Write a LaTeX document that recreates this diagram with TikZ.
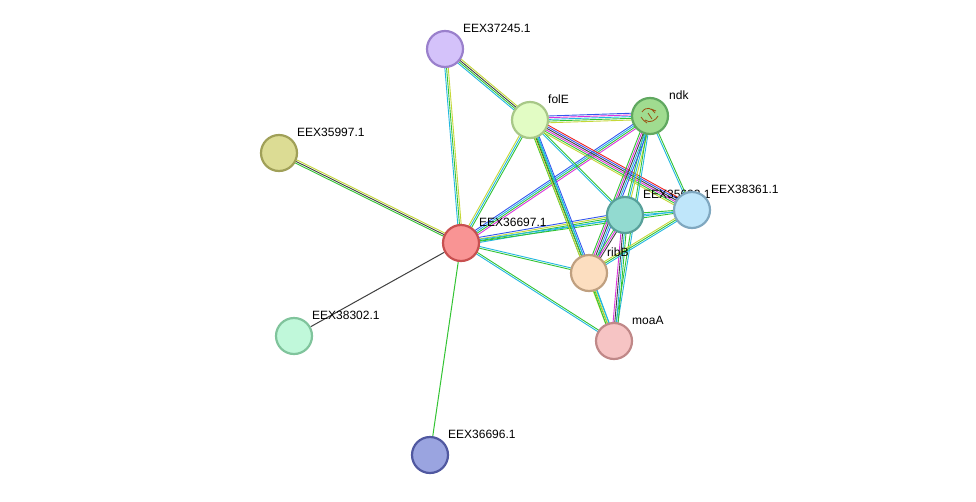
\documentclass[tikz,border=0pt]{standalone}
\usepackage{fontspec}
\setmainfont{Liberation Sans}
\usetikzlibrary{calc,backgrounds}
\definecolor{eg}{HTML}{33C433}
\definecolor{ec}{HTML}{22B8E0}
\definecolor{ey}{HTML}{C6D838}
\definecolor{ed}{HTML}{404040}
\definecolor{em}{HTML}{DD33DD}
\definecolor{eb}{HTML}{3355EE}
\definecolor{er}{HTML}{EE2222}
\definecolor{fa}{HTML}{D4C2FA}\definecolor{da}{HTML}{9A80CC}
\definecolor{ff}{HTML}{E2FCC4}\definecolor{df}{HTML}{A8C888}
\definecolor{fn}{HTML}{A0DC90}\definecolor{dn}{HTML}{60A860}
\definecolor{fc}{HTML}{DCDC94}\definecolor{dc}{HTML}{A0A058}
\definecolor{fs}{HTML}{BFE6FA}\definecolor{ds}{HTML}{80A8C0}
\definecolor{ft}{HTML}{92DAD0}\definecolor{dt}{HTML}{58A09A}
\definecolor{fr}{HTML}{F99494}\definecolor{dr}{HTML}{C85050}
\definecolor{fb}{HTML}{FCDEC0}\definecolor{db}{HTML}{C0A080}
\definecolor{fm}{HTML}{C0F8DA}\definecolor{dm}{HTML}{80C49C}
\definecolor{fo}{HTML}{F6C4C4}\definecolor{do}{HTML}{C08888}
\definecolor{fd}{HTML}{9AA4E0}\definecolor{dd}{HTML}{5058A0}
\definecolor{brn}{HTML}{9A5010}
\tikzset{
  prot/.style={circle,minimum size=36pt,inner sep=0pt,line width=2.2pt},
  lab/.style={anchor=south west,font=\fontsize{12}{13}\selectfont,inner sep=1pt},
}
\newcommand{\edgn}[4]{%
  \foreach \c [count=\i] in {#4} {
    \pgfmathsetmacro{\o}{(\i-(#3+1)/2)*1.7}
    \draw[\c,line width=0.9pt] ($(#1)!\o pt!90:(#2)$) -- ($(#2)!\o pt!-90:(#1)$);
  }}
\begin{document}
\begin{tikzpicture}[x=1pt,y=-1pt]
\useasboundingbox (0,0) rectangle (976,501);
\node[prot,fill=fa,draw=da] (a) at (445,49) {};
\node[prot,fill=ff,draw=df] (f) at (530,120) {};
\node[prot,fill=fn,draw=dn] (n) at (650,116) {};
\node[prot,fill=fc,draw=dc] (c) at (279,153) {};
\node[lab] at ($(625,215)+(17,-15)$) {EEX35633.1};
\node[prot,fill=fs,draw=ds] (s) at (692,210) {};
\node[prot,fill=ft,draw=dt] (t) at (625,215) {};
\node[prot,fill=fr,draw=dr] (r) at (461,243) {};
\node[prot,fill=fb,draw=db] (b) at (589,273) {};
\node[prot,fill=fm,draw=dm] (m) at (294,336) {};
\node[prot,fill=fo,draw=do] (o) at (614,341) {};
\node[prot,fill=fd,draw=dd] (d) at (430,455) {};
\draw[brn,line width=0.8pt] (642,112) .. controls (646,106) and (652,108) .. (655,113) (645,120) .. controls (650,124) and (656,120) .. (658,116) (648,113) -- (652,119) (641,117) .. controls (644,121) .. (647,123) (651,109) -- (656,111);
\begin{scope}[on background layer]
\fill[white] (0,0) rectangle (976,501);
\edgn{a}{f}{4}{ec,eg,ed,ey}
\edgn{a}{r}{3}{ec,eg,ey}
\edgn{c}{r}{3}{eg,ed,ey}
\draw[ed,line width=1pt] (m) -- (r);
\draw[eg,line width=1pt] (d) -- (r);
\edgn{r}{f}{3}{eg,ec,ey}
\edgn{r}{n}{4}{em,eg,ec,eb}
\edgn{r}{t}{4}{ec,eg,ey,eb}
\edgn{r}{s}{2}{eg,ec}
\edgn{r}{b}{2}{eg,ec}
\edgn{r}{o}{2}{ec,eg}
\edgn{f}{n}{5}{ey,eg,ec,em,eb}
\edgn{f}{t}{2}{ec,eg}
\edgn{f}{s}{6}{ey,eg,em,ed,eb,er}
\edgn{f}{b}{4}{eg,ed,ec,eb}
\edgn{f}{o}{3}{ey,eg,ec}
\edgn{n}{t}{3}{eg,ec,ey}
\edgn{n}{s}{2}{ec,eg}
\edgn{n}{b}{5}{eg,em,ed,ec,eb}
\edgn{n}{o}{2}{eg,ec}
\edgn{t}{s}{2}{ec,eg}
\edgn{t}{b}{3}{eg,em,ed}
\edgn{t}{o}{4}{em,ed,ec,eg}
\edgn{s}{b}{3}{ey,eg,ec}
\edgn{b}{o}{3}{eg,ey,ec}
\end{scope}
\node[lab] at ($(a)+(17,-15)$) {EEX37245.1};
\node[lab] at ($(f)+(17,-15)$) {folE};
\node[lab] at ($(n)+(18,-15)$) {ndk};
\node[lab] at ($(c)+(17,-15)$) {EEX35997.1};
\node[lab] at ($(s)+(18,-15)$) {EEX38361.1};
\node[lab] at ($(r)+(17,-15)$) {EEX36697.1};
\node[lab] at ($(b)+(17,-15)$) {ribB};
\node[lab] at ($(m)+(17,-15)$) {EEX38302.1};
\node[lab] at ($(o)+(17,-15)$) {moaA};
\node[lab] at ($(d)+(17,-15)$) {EEX36696.1};
\end{tikzpicture}
\end{document}
